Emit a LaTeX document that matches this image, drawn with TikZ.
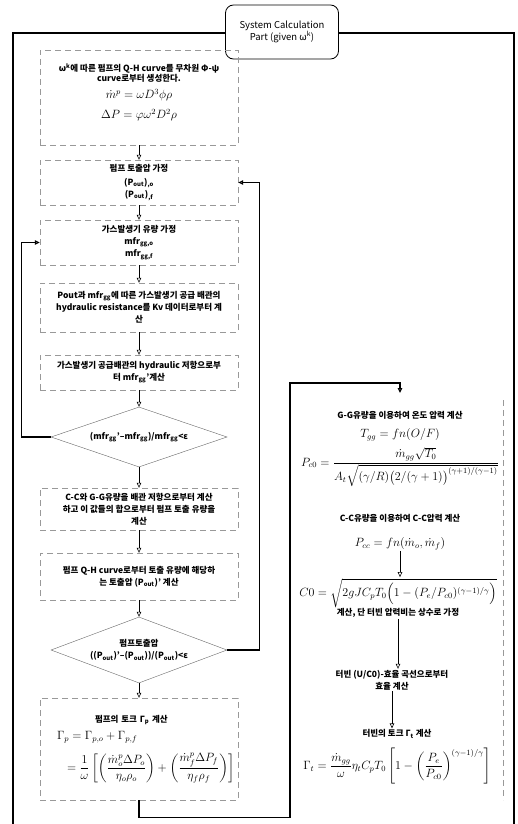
\documentclass[tikz,border=0pt]{standalone}
\usepackage{amsmath}
\usepackage[no-math]{fontspec}
\setmainfont{Noto Sans CJK KR}
\usepackage{tikz}
\usetikzlibrary{arrows.meta,shapes.geometric,calc}
\newcommand{\txtsz}{\fontsize{8.5}{12}\selectfont\bfseries}
\newcommand{\eqsz}{\fontsize{12}{14}\selectfont}

\begin{document}
\begin{tikzpicture}[x=1pt,y=-1pt,
        stepbox/.style={draw=black!40, dash pattern=on 6pt off 4pt, minimum width=198pt, align=center, inner sep=2pt, font=\txtsz},
        calcnode/.style={align=center, inner sep=1pt, font=\txtsz},
        testbox/.style={draw=black!60, diamond, aspect=3, inner sep=0pt, minimum width=176pt, minimum height=60pt, align=center, font=\txtsz},
        titlebox/.style={draw, thick, rounded corners=8pt, fill=white, minimum width=113pt, minimum height=54pt, align=center, font=\fontsize{9.5}{12}\selectfont},
        flowarrow/.style={-{Triangle[open,length=5pt,width=4.5pt]}, line width=0.6pt},
        looparrow/.style={-{Triangle[open,length=5pt,width=4.5pt]}, line width=1.1pt},
    ]
    \useasboundingbox (0,0) rectangle (517,824);
    % Column positions
    \def\colL{139}
    \def\colR{400}

    % === Frame and title ===
    \draw[line width=1.2pt] (13,824) -- (13,33) -- (514,33) -- (514,824);
    \node[titlebox] (title) at (282,32) {System Calculation\\Part (given ω\textsuperscript{k})};

    % === Pump / gas generator loop (left) ===
    \node[stepbox, minimum height=95pt] (b1) at (\colL,97.5) {ω\textsuperscript{k}에 따른 펌프의 Q-H curve를 무차원 Φ-ψ\\[-2pt]curve로부터 생성한다.\\[5pt]{\eqsz$\dot{m}^{p}=\omega D^{3}\phi\rho$}\\[8pt]{\eqsz$\Delta P=\varphi\omega^{2}D^{2}\rho$}\\[0pt]};
    \node[stepbox, minimum height=45pt] (b2) at (\colL,182.5) {펌프 토출압 가정\\[2pt](P\textsubscript{out})\textsubscript{,o}\\(P\textsubscript{out})\textsubscript{,f}};
    \node[stepbox, minimum height=45pt] (b3) at (\colL,242.5) {가스발생기 유량 가정\\mfr\textsubscript{gg,o}\\mfr\textsubscript{gg,f}};
    \node[stepbox, minimum height=49pt] (b4) at (\colL,307.5) {Pout과 mfr\textsubscript{gg}에 따른 가스발생기 공급 배관의\\hydraulic resistance를 Kv 데이터로부터 계\\산};
    \node[stepbox, minimum height=35pt] (b5) at (\colL,372.5) {가스발생기 공급배관의 hydraulic 저항으로부\\터 mfr\textsubscript{gg}'계산};
    \node[testbox] (d1) at (\colL,437) {(mfr\textsubscript{gg}'--mfr\textsubscript{gg})/mfr\textsubscript{gg}<ε};
    \node[stepbox, minimum height=42pt] (b6) at (\colL,509) {C-C와 G-G유량을 배관 저항으로부터 계산\\하고 이 값들의 합으로부터 펌프 토출 유량을\\계산};
    \node[stepbox, minimum height=47pt] (b7) at (\colL,576.5) {펌프 Q-H curve로부터 토출 유량에 해당하\\는 토출압 (P\textsubscript{out})' 계산};
    \node[testbox, minimum height=66pt] (d2) at (\colL,650) {펌프토출압\\((P\textsubscript{out})'--(P\textsubscript{out}))/(P\textsubscript{out})<ε};
    \node[stepbox, minimum height=102pt, text width=192pt, align=left] (b8) at (\colL,749) {\hspace*{52pt}펌프의 토크 Γ\textsubscript{p} 계산\\[5pt]\hspace*{14pt}\mbox{\eqsz$\Gamma_{p}=\Gamma_{p,o}+\Gamma_{p,f}$}\\[9pt]\hspace*{24pt}\mbox{\eqsz$=\dfrac{1}{\omega}\left[\left(\dfrac{\dot{m}^{p}_{o}\Delta P_{o}}{\eta_{o}\rho_{o}}\right)+\left(\dfrac{\dot{m}^{p}_{f}\Delta P_{f}}{\eta_{f}\rho_{f}}\right)\right]$}};

    \draw[flowarrow] (b1) -- (b2);
    \draw[flowarrow] (b2) -- (b3);
    \draw[flowarrow] (b3) -- (b4);
    \draw[flowarrow] (b4) -- (b5);
    \draw[flowarrow] (b5) -- (d1);
    \draw[flowarrow] (d1) -- (b6);
    \draw[flowarrow] (b6) -- (b7);
    \draw[flowarrow] (b7) -- (d2);
    \draw[flowarrow] (d2) -- (b8);
    % Loops back
    \draw[looparrow] (d1.west) -- ++(-29,0) |- (b3.west);
    \draw[looparrow] (d2.east) -- ++(32,0) |- (b2.east);

    % === Turbine side (right) ===
    \node[calcnode, anchor=north, inner ysep=18pt] (r1) at (\colR,393) {G-G유량을 이용하여 온도 압력 계산\\[7pt]{\eqsz$T_{gg}=fn(O/F)$}\\[6pt]{\eqsz$P_{c0}=\dfrac{\dot{m}_{gg}\sqrt{T_{0}}}{A_{t}\sqrt{(\gamma/R)\bigl(2/(\gamma+1)\bigr)^{(\gamma+1)/(\gamma-1)}}}$}};
    \node[calcnode] (r2) at (\colR,532) {C-C유량을 이용하여 C-C압력 계산\\[13pt]{\eqsz$P_{cc}=fn(\dot{m}_{o},\dot{m}_{f})$}};
    \node[calcnode] (r3) at (398,598) {{\eqsz$C0=\sqrt{2gJC_{p}T_{0}\Bigl(1-(P_{e}/P_{c0})^{(\gamma-1)/\gamma}\Bigr)}$}\\계산, 단 터빈 압력비는 상수로 가정};
    \node[calcnode] (r4) at (392,680) {터빈 (U/C0)-효율 곡선으로부터\\효율 계산};
    \node[calcnode] (r5) at (397,757) {터빈의 토크 Γ\textsubscript{t} 계산\\[9pt]{\eqsz$\Gamma_{t}=\dfrac{\dot{m}_{gg}}{\omega}\eta_{t}C_{p}T_{0}\left[1-\left(\dfrac{P_{e}}{P_{c0}}\right)^{(\gamma-1)/\gamma}\right]$}};
    \draw[black!40, dash pattern=on 6pt off 4pt] (503,400) -- (503,800);

    \coordinate (jA) at (290,383);
    \draw[looparrow] (b8.south) -- ++(0,17) -| (jA) -| (r1.north);
    \draw[flowarrow] (r2.south) -- (r2.south |- r3.north);
    \draw[flowarrow] (r3.south) -- (r3.south |- r4.north);
    \draw[flowarrow] (r4.south) -- (r4.south |- r5.north);
\end{tikzpicture}
\end{document}
